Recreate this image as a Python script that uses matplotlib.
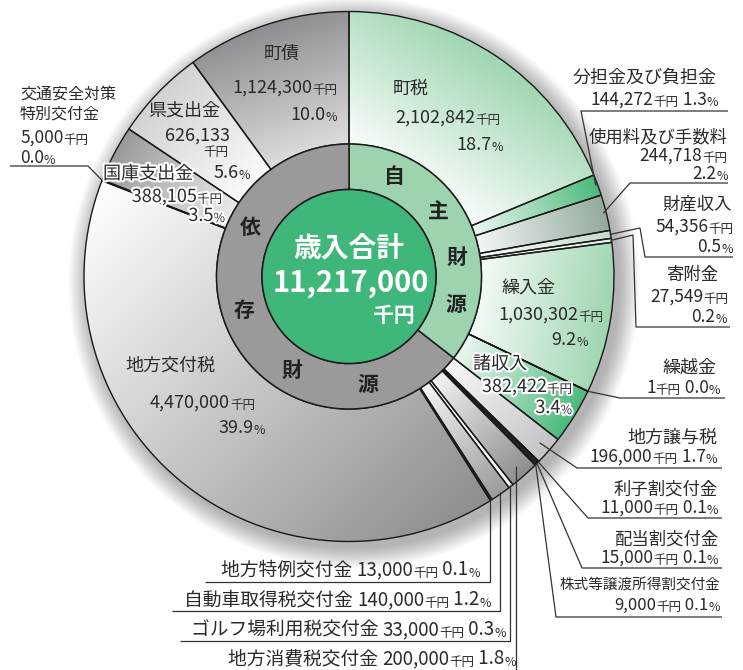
import numpy as np
import matplotlib.pyplot as plt
import matplotlib.patheffects as pe
from matplotlib.patches import Circle
from matplotlib.colors import to_rgb

plt.rcParams['font.family'] = ['Noto Sans CJK JP', 'DejaVu Sans']

# ---- data (千円) ----
names = ['町税', '分担金及び負担金', '使用料及び手数料', '財産収入', '寄附金', '繰入金', '繰越金', '諸収入',
         '地方譲与税', '利子割交付金', '配当割交付金', '株式等譲渡所得割交付金', '地方消費税交付金',
         'ゴルフ場利用税交付金', '自動車取得税交付金', '地方特例交付金', '地方交付税',
         '交通安全対策特別交付金', '国庫支出金', '県支出金', '町債']
amounts = [2102842, 144272, 244718, 54356, 27549, 1030302, 1, 382422,
           196000, 11000, 15000, 9000, 200000, 33000, 140000, 13000, 4470000,
           5000, 388105, 626133, 1124300]
percents = ['18.7', '1.3', '2.2', '0.5', '0.2', '9.2', '0.0', '3.4',
            '1.7', '0.1', '0.1', '0.1', '1.8', '0.3', '1.2', '0.1', '39.9',
            '0.0', '3.5', '5.6', '10.0']
n_self = 8  # first 8 items are 自主財源
total_label = '11,217,000'

colors = ['#9fd6b0', '#4cba7c', '#93ab9c', '#c5dccd', '#e3efe7', '#9fd6b0', '#9fd6b0', '#4cba7c',
          '#c4c4c6', '#444444', '#444444', '#444444', '#8f8f91', '#f2f2f2', '#9c9c9e', '#333333',
          '#8e8e90', '#ffffff', '#9a9a9c', '#d2d2d4', '#8e8e92']

W, H = 743, 670
CX, CY = 349, 276.5
R_OUT, R_MID, R_IN = 265, 132.5, 87
TXT = '#2a2a2a'
EDGE = '#1a1a1a'

fig = plt.figure(figsize=(W / 100, H / 100), dpi=100)
ax = fig.add_axes([0, 0, 1, 1])

# soft shadow
for i in range(16):
    ax.add_patch(Circle((CX + 5, CY + 6), R_OUT + 1 + i * 1.3, fc='k', ec='none', alpha=0.02, zorder=0))

# outer ring (y axis is inverted later, so counterclock=True reads clockwise)
wedges, _ = ax.pie(amounts, radius=R_OUT, center=(CX, CY), startangle=-90, counterclock=True,
                   colors=colors,
                   wedgeprops=dict(width=R_OUT - R_MID, edgecolor=EDGE, linewidth=1.0, zorder=2))

# gradient fill for each slice
grad_dir = {16: 45}
grad_lo = {20: 0.3, 18: 0.2, 0: 0.05, 16: 0.0}
gx = np.linspace(CX - R_OUT, CX + R_OUT, 420)
gy = np.linspace(CY - R_OUT, CY + R_OUT, 420)
XX, YY = np.meshgrid(gx, gy)
ang = np.degrees(np.arctan2(YY - CY, XX - CX))
rad = np.hypot(XX - CX, YY - CY)
for i, (w, col) in enumerate(zip(wedges, colors)):
    t1, t2 = w.theta1, w.theta2
    inside = (((ang - t1) % 360) <= (t2 - t1)) & (rad >= R_MID) & (rad <= R_OUT)
    d = np.radians(grad_dir.get(i, (t1 + t2) / 2))
    proj = (XX - CX) * np.cos(d) + (YY - CY) * np.sin(d)
    if inside.sum() > 10:
        pmin, pmax = proj[inside].min(), proj[inside].max()
    else:
        pmin, pmax = R_MID, R_OUT
    t = np.clip((proj - pmin) / (pmax - pmin + 1e-9), 0, 1)
    lo = grad_lo.get(i, 0.1)
    f = lo + (1 - lo) * t
    rgb = 1 - f[..., None] * (1 - np.array(to_rgb(col)))
    im = ax.imshow(rgb, extent=(gx[0], gx[-1], gy[-1], gy[0]), origin='upper',
                   interpolation='bilinear', zorder=1)
    im.set_clip_path(w)
    w.set_facecolor('none')

# middle ring: 自主財源 / 依存財源
ax.pie([sum(amounts[:n_self]), sum(amounts[n_self:])], radius=R_MID, center=(CX, CY),
       startangle=-90, counterclock=True, colors=['#9dd3ae', '#9a9a9a'],
       wedgeprops=dict(width=R_MID - R_IN, edgecolor=EDGE, linewidth=1.1, zorder=3))
ax.add_patch(Circle((CX, CY), R_IN, fc='#3fb77a', ec=EDGE, lw=1.1, zorder=4))

# centre text
ax.text(CX, 250, '歳入合計', fontsize=20, fontweight='bold', color='white', ha='center', va='center', zorder=6)
ax.text(CX + 2, 283, total_label, fontsize=21, fontweight='bold', color='white', ha='center', va='center', zorder=6)
ax.text(415, 315, '千円', fontsize=15, fontweight='bold', color='white', ha='right', va='center', zorder=6)

# ring characters
ring_chars = ['自', '主', '財', '源', '依', '存', '財', '源']
ring_angles = [-65.5, -36, -10, 14.5, 206.5, 162, 121, 80]
for ch, a in zip(ring_chars, ring_angles):
    ax.text(CX + 110 * np.cos(np.radians(a)), CY + 110 * np.sin(np.radians(a)), ch,
            fontsize=15, fontweight='bold', color='#222222', ha='center', va='center', zorder=6)


def rich(x, y, parts, ha='left', **kw):
    kw.setdefault('color', TXT)
    seq = parts if ha == 'left' else parts[::-1]
    s, fs = seq[0]
    t = ax.text(x, y, s, fontsize=fs, ha=ha, va='baseline', zorder=6, **kw)
    for s, fs in seq[1:]:
        t = ax.annotate(s, xy=(1 if ha == 'left' else 0, 0), xycoords=t, fontsize=fs,
                        ha=ha, va='bottom', zorder=6, **kw)
    return t


def val(i, big=13, small=9):
    return [(f'{amounts[i]:,}', big), ('千円', small)]


def pct(i, big=13, small=9, space=False):
    return [((' ' if space else '') + percents[i], big), ('%', small)]


def name(x, y, i, fs=13, ha='left', **kw):
    ax.text(x, y, names[i], fontsize=fs, color=TXT, ha=ha, va='baseline', zorder=6, **kw)


stroke = [pe.withStroke(linewidth=3, foreground='white')]

# labels inside slices
name(282, 59, 20, ha='center')
rich(337, 94, val(20), ha='right')
rich(337, 121, pct(20), ha='right')

name(393, 94, 0)
rich(395, 123, val(0))
rich(503, 151, pct(0), ha='right')

name(148, 116, 19)
rich(230, 141, [(f'{amounts[19]:,}', 13)], ha='right')
rich(228, 156, [('千円', 9)], ha='right')
rich(250, 179, pct(19), ha='right')

name(103, 179, 18, path_effects=stroke)
rich(222, 203, val(18), ha='right', path_effects=stroke)
rich(225, 222, pct(18), ha='right', path_effects=stroke)

ax.text(20, 98, '交通安全対策', fontsize=11.5, color=TXT, va='baseline', zorder=6)
ax.text(20, 119, '特別交付金', fontsize=11.5, color=TXT, va='baseline', zorder=6)
rich(20, 143, val(17, 12.5))
rich(20, 163, pct(17, 12.5))

name(125, 371, 16)
rich(150, 408, val(16))
rich(265, 434, pct(16), ha='right')

name(502, 293, 5)
rich(603, 321, val(5), ha='right')
rich(588, 346, pct(5), ha='right')

name(473, 369, 7, path_effects=stroke)
rich(572, 393, val(7), ha='right', path_effects=stroke)
rich(572, 414, pct(7), ha='right', path_effects=stroke)

# labels outside, right side
name(717, 83, 1, ha='right')
rich(718, 106, val(1, 12.5) + pct(1, 12.5, space=True), ha='right')

name(728, 142, 2, fs=12.5, ha='right')
rich(727, 162, val(2, 12.5), ha='right')
rich(728, 180, pct(2, 12.5), ha='right')

name(732, 210, 3, fs=12.5, ha='right')
rich(733, 233, val(3, 12.5), ha='right')
rich(733, 253, pct(3, 12.5), ha='right')

name(718, 280, 4, fs=12.5, ha='right')
rich(728, 303, val(4, 12.5), ha='right')
rich(727, 323, pct(4, 12.5), ha='right')

name(717, 373, 6, ha='right')
rich(720, 394, val(6, 12.5) + pct(6, 12.5, space=True), ha='right')

name(717, 443, 8, ha='right')
rich(717, 463, val(8, 12.5) + pct(8, 12.5, space=True), ha='right')

name(718, 495, 9, fs=12.5, ha='right')
rich(718, 514, val(9, 12.5) + pct(9, 12.5, space=True), ha='right')

name(718, 545, 10, fs=12.5, ha='right')
rich(718, 564, val(10, 12.5) + pct(10, 12.5, space=True), ha='right')

name(720, 590, 11, fs=10.5, ha='right')
rich(720, 611, val(11, 12) + pct(11, 12, space=True), ha='right')

# labels outside, bottom
for i, x, y in [(15, 480, 577), (14, 491, 607), (13, 506, 637), (12, 516, 666)]:
    rich(x, y, [(names[i] + ' ', 13.5)] + val(i, 13.5) + pct(i, 13.5, space=True), ha='right')

# leader lines: slice index -> (inset from rim, waypoints); (None, y) keeps x
leaders = {
    1: (2, [(581, 111), (728, 111)]),
    2: (3, [(630, 183), (728, 183)]),
    3: (1, [(640, 228), (645, 257), (733, 257)]),
    4: (1, [(633, 235), (636, 327), (730, 327)]),
    6: (0, [(620, 398), (725, 398)]),
    8: (12, [(577, 468), (722, 468)]),
    9: (0, [(588, 518), (722, 518)]),
    10: (0, [(582, 568), (722, 568)]),
    11: (0, [(556, 617), (722, 617)]),
    12: (12, [(None, 672)]),
    13: (2, [(None, 641), (180, 641)]),
    14: (2, [(None, 611), (172, 611)]),
    15: (2, [(None, 582), (205, 582)]),
    17: (0, [(88, 166), (10, 166)]),
}
for i, (inset, pts) in leaders.items():
    w = wedges[i]
    a = np.radians((w.theta1 + w.theta2) / 2)
    r = R_OUT - inset
    xs = [CX + r * np.cos(a)]
    ys = [CY + r * np.sin(a)]
    for px, py in pts:
        xs.append(xs[-1] if px is None else px)
        ys.append(py)
    ax.plot(xs, ys, color='#333333', lw=0.9, zorder=5, solid_capstyle='butt')

ax.set_xlim(0, W)
ax.set_ylim(H, 0)
ax.set_aspect('equal')
ax.axis('off')

fig.savefig('out.png', dpi=100, facecolor='white')
